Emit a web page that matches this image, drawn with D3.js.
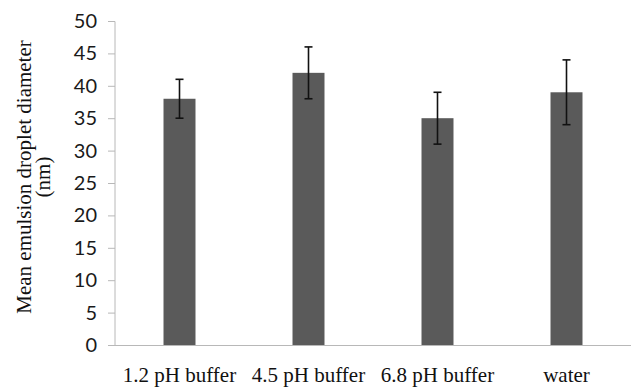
<!DOCTYPE html>
<html>
<head>
<meta charset="utf-8">
<script src="https://cdn.jsdelivr.net/npm/d3@7"></script>
<style>
  html, body { margin: 0; padding: 0; background: #fff; }
  svg { display: block; }
</style>
</head>
<body>
<svg id="chart" width="643" height="389"></svg>
<script>
// Mean droplet diameter (nm) of the emulsion in each medium, with error bars
const categories = ["1.2 pH buffer", "4.5 pH buffer", "6.8 pH buffer", "water"];
const means = [38, 42, 35, 39];
const errors = [3, 4, 4, 5];
const yTicks = [0, 5, 10, 15, 20, 25, 30, 35, 40, 45, 50];

const svg = d3.select("#chart");
const margin = { top: 21, right: 12, bottom: 44, left: 115 };
const width = 643 - margin.left - margin.right;
const height = 389 - margin.top - margin.bottom;

const g = svg.append("g").attr("transform", `translate(${margin.left},${margin.top})`);

const x = d3.scaleBand().domain(categories).range([0, width]).paddingInner(0.752).paddingOuter(0.376);
const y = d3.scaleLinear().domain([0, 50]).range([height, 0]);

const axisColor = "#b8b8b8";

// Y axis
const yAxis = g.append("g").call(d3.axisLeft(y).tickValues(yTicks).tickSize(7).tickPadding(11));
yAxis.select(".domain").attr("stroke", axisColor).attr("d", `M0,${height}V0.5`);
yAxis.selectAll(".tick line").attr("stroke", axisColor);
yAxis.selectAll(".tick text")
  .attr("fill", "#1a1a1a")
  .style("font-family", "Lato, 'Liberation Sans', sans-serif")
  .style("font-size", "20px");

// X axis line
g.append("line")
  .attr("x1", -7).attr("x2", width)
  .attr("y1", height + 0.5).attr("y2", height + 0.5)
  .attr("stroke", axisColor);

// Category labels
const xAxis = g.append("g").attr("transform", `translate(0,${height})`)
  .call(d3.axisBottom(x).tickSize(0).tickPadding(22));
xAxis.select(".domain").remove();
xAxis.selectAll(".tick text")
  .attr("fill", "#111")
  .style("font-family", "'Liberation Serif', 'Times New Roman', serif")
  .style("font-size", "21px");

// Bars
g.selectAll("rect.bar")
  .data(categories)
  .join("rect")
  .attr("class", "bar")
  .attr("x", d => x(d))
  .attr("width", x.bandwidth())
  .attr("y", (d, i) => y(means[i]))
  .attr("height", (d, i) => height - y(means[i]))
  .attr("fill", "#5a5a5a");

// Error bars
const capHalf = 4;
const eb = g.selectAll("g.err")
  .data(categories)
  .join("g")
  .attr("class", "err")
  .attr("stroke", "#111")
  .attr("stroke-width", 1.6);
eb.append("line")
  .attr("x1", d => x(d) + x.bandwidth() / 2)
  .attr("x2", d => x(d) + x.bandwidth() / 2)
  .attr("y1", (d, i) => y(means[i] + errors[i]))
  .attr("y2", (d, i) => y(means[i] - errors[i]));
eb.append("line")
  .attr("x1", d => x(d) + x.bandwidth() / 2 - capHalf)
  .attr("x2", d => x(d) + x.bandwidth() / 2 + capHalf)
  .attr("y1", (d, i) => y(means[i] + errors[i]))
  .attr("y2", (d, i) => y(means[i] + errors[i]));
eb.append("line")
  .attr("x1", d => x(d) + x.bandwidth() / 2 - capHalf)
  .attr("x2", d => x(d) + x.bandwidth() / 2 + capHalf)
  .attr("y1", (d, i) => y(means[i] - errors[i]))
  .attr("y2", (d, i) => y(means[i] - errors[i]));

// Y axis title (two lines)
const title = svg.append("text")
  .attr("transform", `translate(31,${margin.top + height / 2 - 6}) rotate(-90)`)
  .attr("text-anchor", "middle")
  .attr("fill", "#111")
  .style("font-family", "'Liberation Serif', 'Times New Roman', serif")
  .style("font-size", "21px");
title.append("tspan").attr("x", 0).attr("dy", 0).text("Mean emulsion droplet diameter");
title.append("tspan").attr("x", 0).attr("dy", 19).text("(nm)");
</script>
</body>
</html>
